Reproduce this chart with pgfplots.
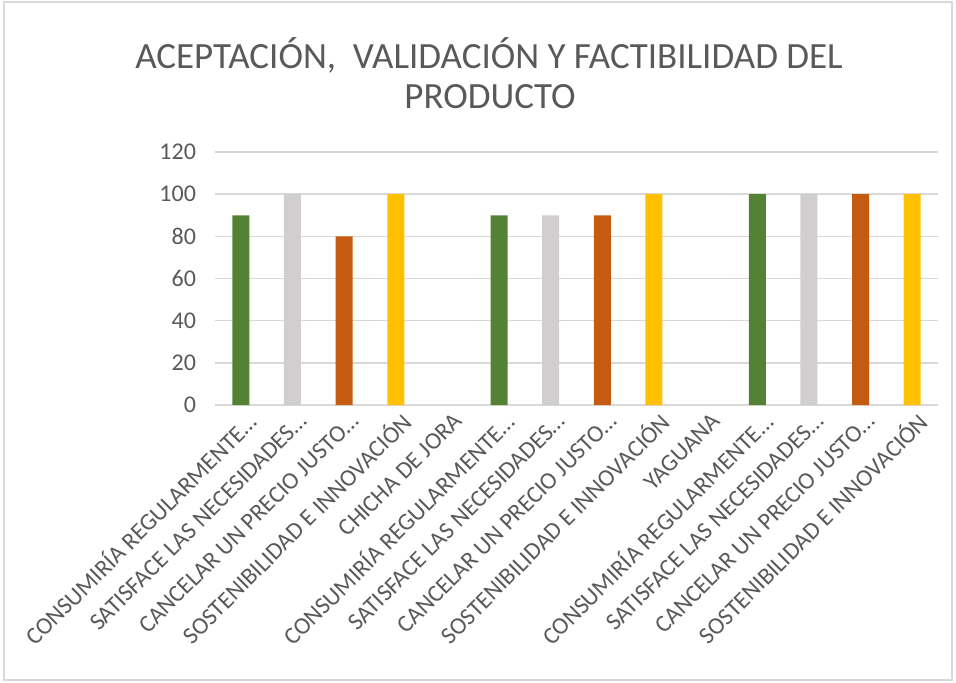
\documentclass[border=0pt]{standalone}
\usepackage{pgfplots}
\pgfplotsset{compat=1.18}
\usepackage{fontspec}
\setmainfont{Carlito}
\definecolor{cgreen}{HTML}{548235}
\definecolor{cgrey}{HTML}{D0CECE}
\definecolor{corange}{HTML}{C55A11}
\definecolor{cyellow}{HTML}{FFC000}
\definecolor{txtgray}{HTML}{595959}
\definecolor{gridgray}{HTML}{D9D9D9}
\begin{document}
\begin{tikzpicture}
\useasboundingbox (0,0) rectangle (478pt,341pt);
\draw[draw=gridgray, line width=0.6pt] (2pt,1pt) rectangle (476pt,340pt);
\node[anchor=base, font=\fontsize{18.5}{20}\selectfont, text=txtgray] at (244.5pt,307pt) {ACEPTACIÓN,\ \ VALIDACIÓN Y FACTIBILIDAD DEL};
\node[anchor=base, font=\fontsize{18.5}{20}\selectfont, text=txtgray] at (245pt,287pt) {PRODUCTO};
\begin{axis}[
  at={(107.5pt,138.5pt)}, anchor=south west,
  scale only axis, width=361.5pt, height=126.5pt,
  xmin=-0.5, xmax=13.5, ymin=0, ymax=120,
  ytick={0,20,...,120},
  xtick={0,...,13},
  xticklabels={CONSUMIRÍA REGULARMENTE…, SATISFACE LAS NECESIDADES…, CANCELAR UN PRECIO JUSTO…, SOSTENIBILIDAD E INNOVACIÓN, CHICHA DE JORA, CONSUMIRÍA REGULARMENTE…, SATISFACE LAS NECESIDADES…, CANCELAR UN PRECIO JUSTO…, SOSTENIBILIDAD E INNOVACIÓN, YAGUANA, CONSUMIRÍA REGULARMENTE…, SATISFACE LAS NECESIDADES…, CANCELAR UN PRECIO JUSTO…, SOSTENIBILIDAD E INNOVACIÓN},
  axis line style={draw=none},
  major tick length=0pt,
  ymajorgrids,
  grid style={draw=gridgray, line width=0.7pt},
  /pgf/number format/assume math mode=true,
  yticklabel style={font=\fontsize{12}{14}\selectfont, text=txtgray, xshift=-6pt},
  xticklabel style={rotate=45, anchor=east, font=\fontsize{12}{14}\selectfont, text=txtgray, xshift=3pt, yshift=-8pt},
  clip=false,
]
\addplot[ybar, bar width=8.5pt, bar shift=0pt, fill=cgreen, draw=none] coordinates {(0,90) (5,90) (10,100)};
\addplot[ybar, bar width=8.5pt, bar shift=0pt, fill=cgrey, draw=none] coordinates {(1,100) (6,90) (11,100)};
\addplot[ybar, bar width=8.5pt, bar shift=0pt, fill=corange, draw=none] coordinates {(2,80) (7,90) (12,100)};
\addplot[ybar, bar width=8.5pt, bar shift=0pt, fill=cyellow, draw=none] coordinates {(3,100) (8,100) (13,100)};
\end{axis}
\end{tikzpicture}
\end{document}
